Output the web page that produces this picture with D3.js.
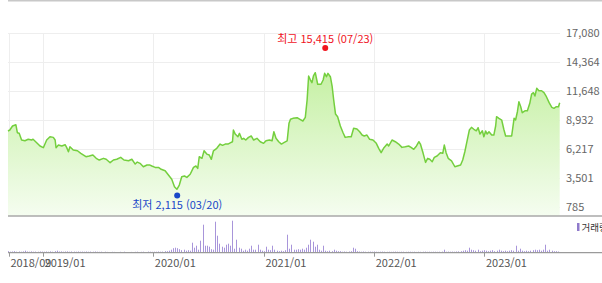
<!doctype html>
<html lang="ko">
<head>
<meta charset="utf-8">
<title>주가 차트</title>
<script src="https://cdn.jsdelivr.net/npm/d3@7"></script>
<style>
  body { margin: 0; background: #fff; }
  svg { display: block; font-family: "Noto Sans CJK KR", "Noto Sans", sans-serif; }
</style>
</head>
<body>
<svg id="chart" width="602" height="283"></svg>
<script>
// close prices
var priceDates = [
  "2018-09-07","2018-09-13","2018-09-22","2018-10-03","2018-10-08","2018-10-14","2018-10-22","2018-11-02","2018-11-13","2018-11-24",
  "2018-11-29","2018-12-11","2018-12-22","2019-01-02","2019-01-13","2019-01-24","2019-02-04","2019-02-10","2019-02-13","2019-02-21",
  "2019-03-04","2019-03-15","2019-03-20","2019-03-26","2019-03-31","2019-04-11","2019-04-25","2019-05-06","2019-05-23","2019-06-03",
  "2019-06-15","2019-06-26","2019-07-06","2019-07-20","2019-07-29","2019-08-11","2019-08-22","2019-09-02","2019-09-15","2019-09-26",
  "2019-10-11","2019-10-22","2019-11-02","2019-11-09","2019-11-18","2019-11-29","2019-12-11","2019-12-21","2019-12-27","2020-01-07",
  "2020-01-18","2020-01-27","2020-02-09","2020-02-20","2020-03-02","2020-03-11","2020-03-19","2020-03-27","2020-04-04","2020-04-13",
  "2020-04-21","2020-05-02","2020-05-13","2020-05-21","2020-05-27","2020-06-01","2020-06-10","2020-06-17","2020-06-26","2020-07-04",
  "2020-07-11","2020-07-18","2020-07-29","2020-08-09","2020-08-17","2020-08-26","2020-09-04","2020-09-13","2020-09-19","2020-09-22",
  "2020-09-28","2020-10-07","2020-10-12","2020-10-20","2020-10-26","2020-11-02","2020-11-11","2020-11-20","2020-11-28","2020-12-09",
  "2020-12-20","2020-12-31","2021-01-08","2021-01-19","2021-01-28","2021-02-03","2021-02-10","2021-02-19","2021-02-28","2021-03-08",
  "2021-03-19","2021-03-25","2021-03-30","2021-04-07","2021-04-21","2021-04-29","2021-05-10","2021-05-18","2021-05-24","2021-05-29",
  "2021-06-04","2021-06-09","2021-06-14","2021-06-20","2021-06-28","2021-07-09","2021-07-16","2021-07-21","2021-07-27","2021-08-01",
  "2021-08-09","2021-08-15","2021-08-20","2021-08-26","2021-09-02","2021-09-11","2021-09-20","2021-09-27","2021-10-08","2021-10-17",
  "2021-10-25","2021-11-05","2021-11-14","2021-11-22","2021-11-29","2021-12-08","2021-12-17","2021-12-28","2022-01-08","2022-01-16",
  "2022-01-24","2022-02-01","2022-02-13","2022-02-18","2022-03-01","2022-03-12","2022-03-23","2022-04-03","2022-04-14","2022-04-25",
  "2022-05-03","2022-05-12","2022-05-21","2022-05-29","2022-06-03","2022-06-12","2022-06-20","2022-06-27","2022-07-04","2022-07-12",
  "2022-07-19","2022-07-28","2022-08-08","2022-08-16","2022-08-21","2022-08-27","2022-09-03","2022-09-14","2022-09-25","2022-10-03",
  "2022-10-14","2022-10-21","2022-10-28","2022-11-05","2022-11-12","2022-11-19","2022-11-27","2022-12-05","2022-12-11","2022-12-17",
  "2022-12-25","2022-12-30","2023-01-05","2023-01-10","2023-01-16","2023-01-25","2023-02-01","2023-02-07","2023-02-10","2023-02-18",
  "2023-02-27","2023-03-06","2023-03-12","2023-04-01","2023-04-09","2023-04-14","2023-04-20","2023-04-25","2023-05-01","2023-05-06",
  "2023-05-15","2023-05-23","2023-05-31","2023-06-06","2023-06-12","2023-06-17","2023-06-23","2023-06-30","2023-07-09","2023-07-17",
  "2023-07-25","2023-08-03","2023-08-12","2023-08-19","2023-08-27","2023-09-03","2023-09-07"
];
var prices = [
  7900,7990,8370,8490,7740,7680,7050,6980,7120,7050,
  7120,6800,6490,6330,7050,7360,7300,7050,6330,6580,
  6490,6610,6360,5950,6420,6110,6040,5800,5480,5550,
  5640,5330,5170,5330,5240,4920,5170,5240,5420,5170,
  5100,5240,4790,4980,4860,4540,4700,4700,4610,4480,
  4480,4300,4160,3760,3360,2660,2420,2820,3600,3670,
  3540,3830,4480,4610,4390,5480,5330,6040,5730,5640,
  5240,6040,6270,6670,6550,6670,6670,6800,6890,7990,
  7610,7360,7680,7120,7210,7050,7300,7430,7050,7210,
  6890,6740,6980,7050,6980,7830,7210,6890,6670,6800,
  6980,8620,9000,9090,9150,9020,8840,9180,10810,13070,
  12690,12440,13070,13380,12290,12290,12690,13320,13000,13320,
  13000,12060,10810,9490,9240,8370,7740,7300,7360,7360,
  8150,8080,7830,7520,7430,7520,7120,7050,6740,6270,
  5860,6270,6670,6490,7050,6890,6670,6360,6420,6490,
  6360,6180,6490,6890,6670,5800,4950,5330,5240,5010,
  5420,5550,5860,5800,6580,5860,5330,5100,4540,4610,
  4700,5170,5950,7050,7990,8240,8060,7920,8210,7610,
  7920,7360,7900,7610,7830,7520,7520,8370,9240,9090,
  8930,8060,7430,7430,9090,8930,9710,10650,10180,9620,
  9800,9800,10500,11370,11500,11190,11910,11680,11680,11500,
  11120,10560,10120,10030,10180,10180,10560
];

// weekly volume (thousand shares), first week starting 2018-09-07
var volumeStart = "2018-09-07";
var volumes = [
  150,100,120,150,100,120,100,130,200,120,
  100,130,100,110,100,120,110,100,120,100,
  130,100,150,200,120,130,100,120,130,100,
  120,110,100,120,100,110,100,120,100,110,
  100,120,100,90,100,0,100,80,0,90,
  80,0,0,90,0,100,0,0,80,0,
  90,100,0,90,100,0,110,100,90,100,
  100,120,100,110,150,150,200,300,450,500,
  450,350,250,300,200,250,200,1000,500,700,
  300,1200,2800,700,700,600,350,300,3100,1700,
  900,600,500,800,900,700,3200,400,1300,500,
  400,200,300,200,400,700,300,300,800,300,
  200,150,600,300,250,700,300,200,150,200,
  150,250,1800,400,800,300,300,350,300,400,
  300,500,800,1300,1100,600,800,300,200,700,
  200,150,200,150,300,200,150,150,100,120,
  100,120,150,500,400,150,120,100,120,100,
  100,110,100,120,100,90,100,110,100,90,
  100,90,100,110,100,90,100,100,90,100,
  100,90,100,80,100,90,100,110,90,100,
  90,100,100,90,100,110,300,100,110,100,
  110,100,120,130,150,200,250,200,500,300,
  250,200,300,150,200,250,200,150,200,250,
  150,200,300,200,150,200,150,200,250,200,
  700,200,400,200,150,200,150,200,250,300,
  250,300,200,300,800,200,300,200,150,150,120
];

var yTicks = [785, 3501, 6217, 8932, 11648, 14364, 17080];
var xTickDates = ["2018-09-10","2019-01-01","2020-01-01","2021-01-01","2022-01-01","2023-01-01"];
var xTickLabels = ["2018/09","2019/01","2020/01","2021/01","2022/01","2023/01"];

var highPoint = {date: "2021-07-23", value: 15415, label: "최고 15,415 (07/23)"};
var lowPoint = {date: "2020-03-20", value: 2115, label: "최저 2,115 (03/20)"};

var parse = d3.utcParse("%Y-%m-%d");
var data = priceDates.map(function(d, i) { return {date: parse(d), price: prices[i]}; });
var volData = volumes.map(function(v, i) {
  return {date: d3.utcDay.offset(parse(volumeStart), i * 7), vol: v};
});

var svg = d3.select("#chart");
var left = 8, right = 560, paneBottom = 216;
var volBase = 252.7;

var xScale = d3.scaleUtc().domain([parse("2018-09-07"), parse("2023-09-08")]).range([left, right]);
var yScale = d3.scaleLinear().domain([785, 17080]).range([206.7, 33.3]);
var vScale = d3.scaleLinear().domain([0, 3200]).range([volBase, 220.7]);

// gradient for the area
var grad = svg.append("defs").append("linearGradient")
  .attr("id", "areaFill").attr("gradientUnits", "userSpaceOnUse")
  .attr("x1", 0).attr("x2", 0).attr("y1", 60).attr("y2", paneBottom);
grad.append("stop").attr("offset", "0%").attr("stop-color", "#c2ef9e");
grad.append("stop").attr("offset", "100%").attr("stop-color", "#f5fdf0");

// top border
svg.append("line").attr("x1", left).attr("x2", 602).attr("y1", 0.5).attr("y2", 0.5)
  .attr("stroke", "#c8c8c8").attr("stroke-width", 2);

// horizontal grid
svg.append("g").selectAll("line").data(yTicks).enter().append("line")
  .attr("x1", left).attr("x2", right)
  .attr("y1", function(d) { return Math.round(yScale(d)) + 0.5; })
  .attr("y2", function(d) { return Math.round(yScale(d)) + 0.5; })
  .attr("stroke", "#eeeeee");

// vertical grid
svg.append("g").selectAll("line").data(xTickDates).enter().append("line")
  .attr("x1", function(d) { return Math.round(xScale(parse(d))) + 0.5; })
  .attr("x2", function(d) { return Math.round(xScale(parse(d))) + 0.5; })
  .attr("y1", 33).attr("y2", paneBottom)
  .attr("stroke", "#eeeeee");

// area + line
var area = d3.area()
  .x(function(d) { return xScale(d.date); })
  .y0(paneBottom)
  .y1(function(d) { return yScale(d.price); });
var line = d3.line()
  .x(function(d) { return xScale(d.date); })
  .y(function(d) { return yScale(d.price); });

svg.append("path").attr("d", area(data)).attr("fill", "url(#areaFill)");
svg.append("path").attr("d", line(data))
  .attr("fill", "none").attr("stroke", "#74cf3e").attr("stroke-width", 1.5)
  .attr("stroke-linejoin", "round");

// right axis labels
svg.append("g").selectAll("text").data(yTicks).enter().append("text")
  .attr("x", 566).attr("y", function(d) { return yScale(d) + 4; })
  .attr("font-size", 11).attr("fill", "#666")
  .text(function(d) { return d3.format(",")(d); });

// pane separator
svg.append("line").attr("x1", left).attr("x2", 602).attr("y1", paneBottom).attr("y2", paneBottom)
  .attr("stroke", "#a9a9a9").attr("stroke-width", 1.5);

// volume bars
svg.append("g").selectAll("rect").data(volData.filter(function(d) { return d.vol > 0; }))
  .enter().append("rect")
  .attr("x", function(d) { return Math.round(xScale(d.date)); })
  .attr("width", 1)
  .attr("y", function(d) { return vScale(d.vol); })
  .attr("height", function(d) { return volBase - vScale(d.vol); })
  .attr("fill", "#a895da");

// volume baseline + ticks
svg.append("line").attr("x1", left).attr("x2", 602).attr("y1", volBase).attr("y2", volBase)
  .attr("stroke", "#9a9a9a").attr("stroke-width", 1.2);
svg.append("g").selectAll("line").data(xTickDates).enter().append("line")
  .attr("x1", function(d) { return Math.round(xScale(parse(d))) + 0.5; })
  .attr("x2", function(d) { return Math.round(xScale(parse(d))) + 0.5; })
  .attr("y1", volBase).attr("y2", volBase + 4)
  .attr("stroke", "#9a9a9a");

// x labels
svg.append("g").selectAll("text").data(xTickDates).enter().append("text")
  .attr("x", function(d) { return xScale(parse(d)) + 1.5; })
  .attr("y", 267)
  .attr("font-size", 11).attr("fill", "#555")
  .text(function(d, i) { return xTickLabels[i]; });

// legend (cut off at the right edge, as in the original)
svg.append("rect").attr("x", 577).attr("y", 223).attr("width", 2.5).attr("height", 8).attr("fill", "#8f7acb");
svg.append("text").attr("x", 581.5).attr("y", 230.5).attr("font-size", 9.5).attr("fill", "#333").text("거래량");

// high / low markers
var hx = xScale(parse(highPoint.date)), hy = yScale(highPoint.value) - 3;
svg.append("circle").attr("cx", hx).attr("cy", hy).attr("r", 3).attr("fill", "#f0131e");
svg.append("text").attr("x", hx).attr("y", hy - 5).attr("text-anchor", "middle")
  .attr("font-size", 11).attr("fill", "#f0131e").text(highPoint.label);

var lx = xScale(parse(lowPoint.date)), ly = yScale(lowPoint.value) + 3;
svg.append("circle").attr("cx", lx).attr("cy", ly).attr("r", 3).attr("fill", "#1947c8");
svg.append("text").attr("x", lx).attr("y", ly + 13).attr("text-anchor", "middle")
  .attr("font-size", 11).attr("fill", "#1947c8").text(lowPoint.label);
</script>
</body>
</html>
